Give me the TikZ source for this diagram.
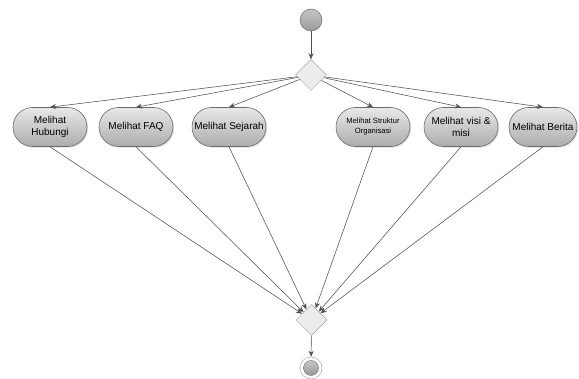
\documentclass[tikz,border=0pt]{standalone}
\usepackage{fontspec}
\setmainfont{Liberation Sans}
\usetikzlibrary{shapes.misc,shapes.geometric,shadows,arrows.meta}
\definecolor{edgegray}{HTML}{505050}
\definecolor{bordergray}{HTML}{6A6A6A}
\begin{document}
\begin{tikzpicture}[x=1pt,y=-1pt,
  act/.style={rounded rectangle, draw=bordergray, line width=0.6pt,
    top color=gray!18, bottom color=gray!65, minimum height=39pt,
    minimum width=78pt, inner xsep=2pt, align=center, font=\fontsize{10}{12}\selectfont,
    drop shadow={shadow xshift=1.2pt, shadow yshift=-1.2pt, opacity=0.25}},
  decis/.style={diamond, draw=gray!70, fill=gray!15, line width=0.5pt,
    minimum width=31pt, minimum height=31pt, inner sep=0pt, aspect=1},
  flow/.style={draw=edgegray, line width=0.55pt, -{Stealth[length=6pt,width=5pt]}},
  startc/.style={circle, draw=bordergray, line width=0.5pt, inner sep=0pt,
    minimum size=22pt, top color=gray!45, bottom color=gray!80}
]
\useasboundingbox (0,0) rectangle (579,379);
\node[startc] (start) at (311,20) {};
\node[decis] (d1) at (311,75) {};
\node[act] (hub) at (50,127) {Melihat\\Hubungi};
\node[act] (faq) at (136,127) {Melihat FAQ};
\node[act] (sej) at (229,127) {Melihat Sejarah};
\node[act, font=\fontsize{7.6}{10}\selectfont] (str) at (373,127) {Melihat Struktur\\Organisasi};
\node[act] (vis) at (461,127) {Melihat visi \&\\misi};
\node[act, minimum width=72pt] (ber) at (543,127) {Melihat Berita};
\node[decis] (d2) at (311.5,320) {};
\node[circle, draw=gray!70, line width=0.5pt, minimum size=22pt, inner sep=0pt] (endc) at (311,368) {};
\node[circle, draw=bordergray, line width=0.4pt, inner sep=0pt, minimum size=15pt,
  top color=gray!45, bottom color=gray!80] (endi) at (311,368) {};

\draw[flow] (start) -- (d1);
\foreach \n in {hub,faq,sej,str,vis,ber}{
  \draw[flow] (d1) -- (\n.north);
  \draw[flow] (\n.south) -- (d2);
}
\draw[flow] (d2) -- (endc);
\end{tikzpicture}
\end{document}
